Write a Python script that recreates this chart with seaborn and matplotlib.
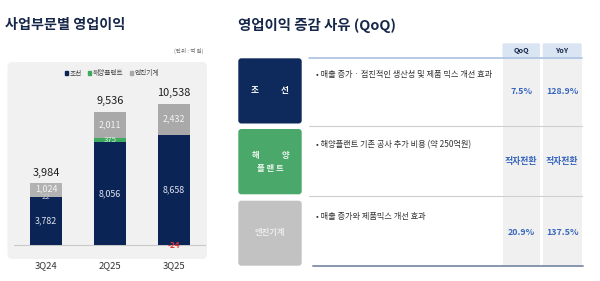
import matplotlib
matplotlib.use("Agg")
import matplotlib.pyplot as plt
from matplotlib.patches import FancyBboxPatch, Rectangle, Patch
import seaborn as sns
import pandas as pd
import numpy as np

# ---------------- data ----------------
categories = ["3Q24", "2Q25", "3Q25"]
shipbuilding = [3782, 8056, 8658]      # 조선
offshore = [22, 375, -24]              # 해양플랜트
engine = [1024, 2011, 2432]            # 엔진기계
totals = [3984, 9536, 10538]
series_names = ["조선", "해양플랜트", "엔진기계"]

segments = ["조선", "해양플랜트", "엔진기계"]
reasons = ["• 매출 증가 · 점진적인 생산성 및 제품 믹스 개선 효과",
           "• 해양플랜트 기존 공사 추가 비용 (약 250억원)",
           "• 매출 증가와 제품믹스 개선 효과"]
qoq = ["7.5%", "적자전환", "20.9%"]
yoy = ["128.9%", "적자전환", "137.5%"]

# ---------------- style ----------------
sns.set_theme(style="white")
plt.rcParams['font.family'] = ['Noto Sans CJK KR', 'DejaVu Sans']

NAVY = "#0b2456"
GREEN = "#3daa5e"
GREY = "#a9a9a9"
BLUE_TXT = "#3a68bd"
TITLE = "#16284a"

fig = plt.figure(figsize=(6, 2.81), dpi=100)

# background overlay in pixel coordinates
bg = fig.add_axes([0, 0, 1, 1], zorder=0)
bg.set_xlim(0, 600)
bg.set_ylim(281, 0)
bg.axis("off")

# left panel
bg.add_patch(FancyBboxPatch((7.5, 62), 199.5, 197, boxstyle="round,pad=0,rounding_size=5",
                            fc="#f1f1f1", ec="none"))
bg.text(5, 25, "사업부문별 영업이익", fontsize=10.2, fontweight="bold", color=TITLE,
        ha="left", va="center")
bg.text(204, 51, "(단위 : 억 원)", fontsize=4.0, color="#666666", ha="right", va="center")

# right title
bg.text(238, 25.5, "영업이익 증감 사유 (QoQ)", fontsize=10.4, fontweight="bold", color=TITLE,
        ha="left", va="center")

# value column backgrounds & headers
for x0, x1, head in [(502.5, 540, "QoQ"), (542.7, 581.7, "YoY")]:
    bg.add_patch(Rectangle((x0, 57.5), x1 - x0, 208, fc="#f0f0f0", ec="none"))
    bg.add_patch(FancyBboxPatch((x0, 43.3), x1 - x0, 14, boxstyle="round,pad=0,rounding_size=1.5",
                                fc="#dae5f3", ec="none"))
    bg.text((x0 + x1) / 2, 50.3, head, fontsize=5.2, fontweight="bold", color=TITLE,
            ha="center", va="center")

bg.plot([309, 582], [57.7, 57.7], color="#a9c0e2", lw=1.2)
bg.plot([309, 582], [125.8, 125.8], color="#cfcfcf", lw=0.8)
bg.plot([309, 582], [196, 196], color="#cfcfcf", lw=0.8)
bg.plot([312.5, 583], [265.7, 265.7], color="#8796b0", lw=1.4)

row_boxes = [(58.3, 123.5, "#0e2a5c"), (129, 194.3, "#4aa96a"), (200.7, 265.7, "#c2c2c2")]
desc_y = [74.5, 145, 216.7]
val_y = [91, 161.7, 232.7]
for i, (y0, y1, col) in enumerate(row_boxes):
    bg.add_patch(FancyBboxPatch((238.3, y0), 63.4, y1 - y0,
                                boxstyle="round,pad=0,rounding_size=3", fc=col, ec="none"))
    bg.text(315.5, desc_y[i], reasons[i], fontsize=5.9, color="#333333", ha="left", va="center")
    bg.text(521.3, val_y[i], qoq[i], fontsize=6.4, fontweight="bold", color=BLUE_TXT,
            ha="center", va="center")
    bg.text(562.2, val_y[i], yoy[i], fontsize=6.4, fontweight="bold", color=BLUE_TXT,
            ha="center", va="center")

# row label texts
seg0, seg1, seg2 = segments
bg.text(255, 91, seg0[0], fontsize=6.2, fontweight="bold", color="white", ha="center", va="center")
bg.text(284.5, 91, seg0[1], fontsize=6.2, fontweight="bold", color="white", ha="center", va="center")
bg.text(255, 155.7, seg1[0], fontsize=6.0, fontweight="bold", color="#eef6f0", ha="center", va="center")
bg.text(285, 155.7, seg1[1], fontsize=6.0, fontweight="bold", color="#eef6f0", ha="center", va="center")
bg.text(270, 168.3, " ".join(seg1[2:]), fontsize=6.0, fontweight="bold", color="#eef6f0",
        ha="center", va="center")
bg.text(270, 232.7, seg2, fontsize=6.0, fontweight="bold", color="#ececec", ha="center", va="center")

# ---------------- bar chart ----------------
ax = fig.add_axes([14 / 600, 32 / 281, 192 / 600, 157 / 281], zorder=1)
ax.patch.set_alpha(0)

df = pd.DataFrame({"cat": categories, "ship": shipbuilding, "off": offshore,
                   "eng": engine, "total": totals})
off_pos = np.clip(df["off"], 0, None)
off_neg = np.clip(df["off"], None, 0)
df["lvl_ship"] = df["ship"]
df["lvl_off"] = df["ship"] + off_pos
df["lvl_eng"] = df["lvl_off"] + df["eng"]
df["neg_off"] = off_neg

grey_cols = ["#b2b2b2", GREY, GREY]
sns.barplot(data=df, x="cat", y="lvl_eng", order=categories, hue="cat", palette=grey_cols,
            legend=False, width=0.5, saturation=1, linewidth=0, ax=ax)
sns.barplot(data=df, x="cat", y="lvl_off", order=categories, color=GREEN,
            width=0.5, saturation=1, linewidth=0, ax=ax)
sns.barplot(data=df, x="cat", y="lvl_ship", order=categories, color=NAVY,
            width=0.5, saturation=1, linewidth=0, ax=ax)
sns.barplot(data=df, x="cat", y="neg_off", order=categories, color=GREEN,
            width=0.5, saturation=1, linewidth=0, ax=ax)

ax.axhline(0, color="#c9c9c9", lw=0.8, zorder=0.5)

def fmt(v):
    return f"{v:,}"

for i in range(len(categories)):
    s = df["ship"][i]
    o = df["off"][i]
    e = df["eng"][i]
    ax.text(i, s / 2, fmt(s), ha="center", va="center", fontsize=6.4, color="#dfe3ee")
    if o >= 0:
        ax.text(i, s + o / 2 if o > 100 else s, fmt(o), ha="center", va="center",
                fontsize=5.6, color="#d8efe0" if o > 100 else "#c8ccd6")
    else:
        ax.text(i, -60, fmt(o), ha="center", va="center", fontsize=5.8, fontweight="bold",
                color="#e0353a")
    top_off = df["lvl_off"][i]
    eng_mid = top_off + e / 2 if i > 0 else top_off + e / 2 + 80
    ax.text(i, eng_mid, fmt(e), ha="center", va="center", fontsize=6.4, color="#f4f4f4")
    ax.annotate(fmt(df["total"][i]), (i, df["lvl_eng"][i]), xytext=(0, 7.8),
                textcoords="offset points", ha="center", va="center", fontsize=7.9, color="#1e1e1e")

ax.set_xlim(-0.5, 2.5)
ax.set_ylim(-314, 12010)
ax.set_yticks([])
ax.set_xlabel("")
ax.set_ylabel("")
ax.tick_params(axis="x", length=0, pad=9.0, labelsize=6.8, labelcolor="#333333")
for sp in ax.spines.values():
    sp.set_visible(False)

handles = [Patch(color=NAVY), Patch(color=GREEN), Patch(color=GREY)]
fig.legend(handles, series_names, loc="center", bbox_to_anchor=(112 / 600, 1 - 73.5 / 281),
           ncol=3, frameon=False, fontsize=4.8, handlelength=0.45, handleheight=0.45,
           handletextpad=0.3, columnspacing=0.9, labelcolor="#444444")

fig.savefig("out.png", dpi=100)
